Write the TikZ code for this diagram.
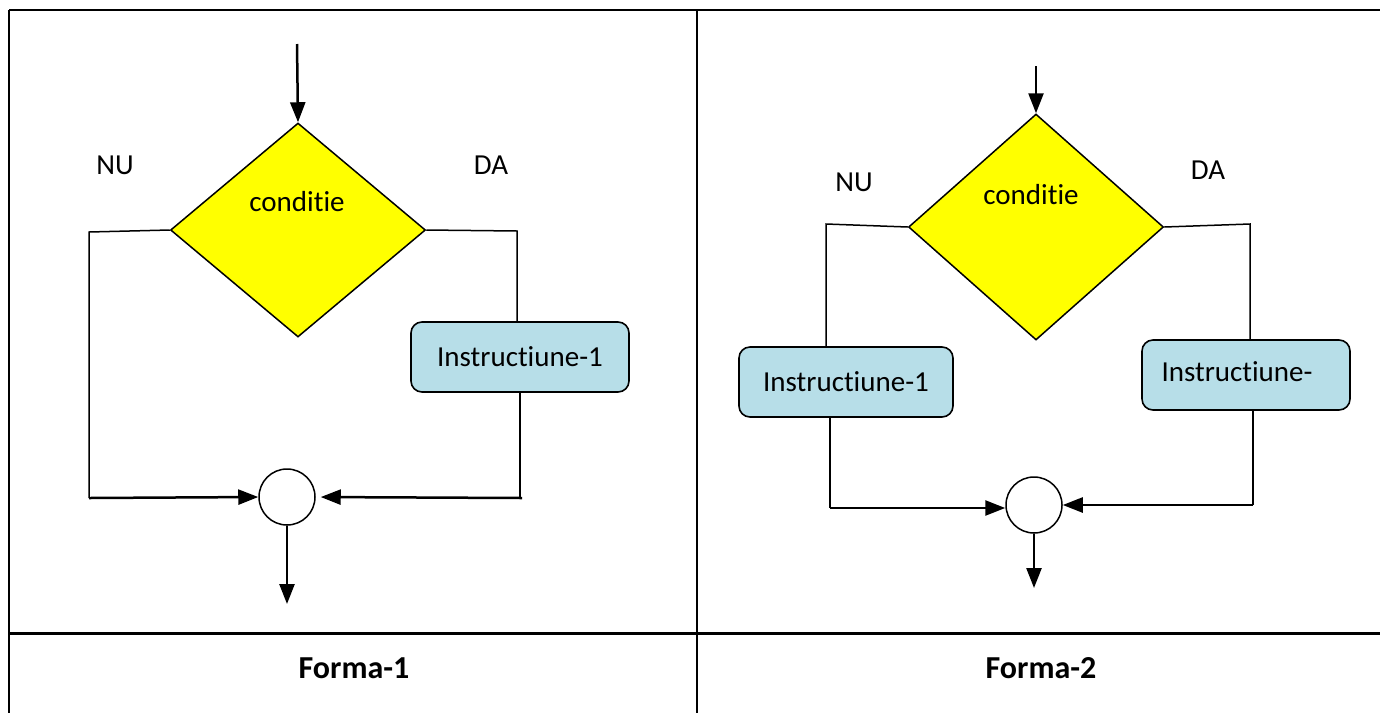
\documentclass[tikz,border=0pt]{standalone}
\usepackage{fontspec}
\setmainfont{Carlito}[Ligatures=NoCommon]
\usetikzlibrary{shapes.geometric,arrows.meta}
\definecolor{dyellow}{HTML}{FFFF00}
\definecolor{ibluefill}{HTML}{B7DEE8}
\tikzset{
  dia/.style={diamond, draw, fill=dyellow, line width=1.5pt, inner sep=0pt, minimum width=255pt, minimum height=214pt},
  ibox/.style={draw, fill=ibluefill, rounded corners=11pt, line width=1.6pt, inner sep=0pt, minimum width=#1, minimum height=70pt, font=\fontsize{29}{34}\selectfont},
  joint/.style={circle, draw, line width=1.5pt, inner sep=0pt, minimum size=56pt},
  ln/.style={line width=1.5pt},
  arr/.style={line width=2.5pt, -{Triangle[length=20pt,width=15pt]}},
  lbl/.style={font=\fontsize{29}{34}\selectfont, inner sep=0pt},
  ttl/.style={font=\fontsize{32}{38}\selectfont\bfseries, inner sep=0pt},
  grid/.style={line width=2pt}
}
\begin{document}
\begin{tikzpicture}[x=1pt,y=-1pt]
\useasboundingbox (0,0) rectangle (1380,713);
% table frame
\draw[grid] (9,10) -- (1380,10);
\draw[grid] (9,10) -- (9,713);
\draw[grid] (697,10) -- (697,713);
\draw[line width=3pt] (9,633) -- (1380,633);
\node[ttl] (t1) at (354,668) {Forma-1};
\node[ttl] (t2) at (1041,668) {Forma-2};

% ---------- Forma-1 ----------
\coordinate (s1) at (297,44);
\node[dia] (d1) at (298,230) {};
\node[lbl] (c1txt) at (297,202) {conditie};
\node[lbl] (nu1) at (115,165) {NU};
\node[lbl] (da1) at (491,165) {DA};
\node[ibox=218pt] (b1) at (520,357) {Instructiune-1};
\node[joint] (j1) at (287,497) {};
\coordinate (e1) at (287,604);
\coordinate (l1a) at (89,232);
\coordinate (l1b) at (89,498);
\coordinate (r1a) at (517,231);
\coordinate (r1b) at (522,498);

\draw[arr] (s1) -- (d1.north);
\draw[ln] (d1.west) -- (l1a) -- (l1b);
\draw[arr] (l1b) -- (j1.west);
\draw[ln] (d1.east) -- (r1a) -- (r1a |- b1.north);
\draw[ln] (b1.south) -- (b1.south |- r1b) -- (r1b);
\draw[arr, shorten >=5pt] (r1b) -- (j1.east);
\draw[arr] (j1.south) -- (e1);

% ---------- Forma-2 ----------
\coordinate (s2) at (1036,66);
\node[dia, minimum height=226pt] (d2) at (1036,227) {};
\node[lbl] (c2txt) at (1031,195) {conditie};
\node[lbl] (nu2) at (854,182) {NU};
\node[lbl] (da2) at (1208,170) {DA};
\node[ibox=214pt] (b2) at (846,382) {Instructiune-1};
\node[ibox=208pt] (b3) at (1246,375) {};
\node[lbl] (b3txt) at (1237,372) {Instructiune-};
\node[joint] (j2) at (1034,505) {};
\coordinate (e2) at (1034,588);
\coordinate (l2a) at (826,224);
\coordinate (l2b) at (830,508);
\coordinate (r2a) at (1250,224);
\coordinate (r2b) at (1253,505);

\draw[arr] (s2) -- (d2.north);
\draw[ln] (d2.west) -- (l2a) -- (l2a |- b2.north);
\draw[ln] (b2.south -| l2b) -- (l2b);
\draw[arr] (l2b) -- (j2.west |- l2b);
\draw[ln] (d2.east) -- (r2a) -- (r2a |- b3.north);
\draw[ln] (b3.south -| r2b) -- (r2b);
\draw[arr] (r2b) -- (j2.east);
\draw[arr] (j2.south) -- (e2);
\end{tikzpicture}
\end{document}
